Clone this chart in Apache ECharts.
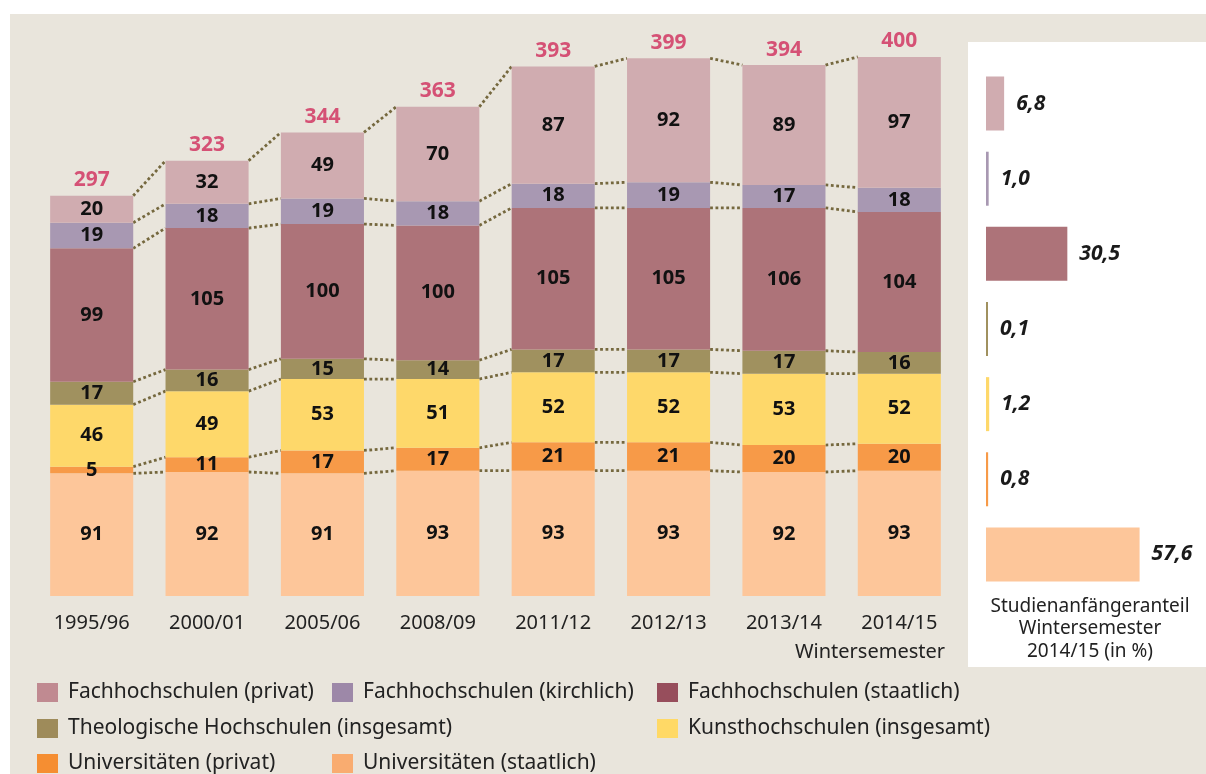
<!DOCTYPE html>
<html>
<head>
<meta charset="utf-8">
<script src="https://cdn.jsdelivr.net/npm/echarts@6/dist/echarts.min.js"></script>
<style>
html,body{margin:0;padding:0;background:#fff;}
#chart{width:1206px;height:774px;}
</style>
</head>
<body>
<div id="chart"></div>
<script>
// ---- data ----
const categories = ['1995/96','2000/01','2005/06','2008/09','2011/12','2012/13','2013/14','2014/15'];
const uniStaatlich = [91, 92, 91, 93, 93, 93, 92, 93];
const uniPrivat    = [5, 11, 17, 17, 21, 21, 20, 20];
const kunst        = [46, 49, 53, 51, 52, 52, 53, 52];
const theologisch  = [17, 16, 15, 14, 17, 17, 17, 16];
const fhStaatlich  = [99, 105, 100, 100, 105, 105, 106, 104];
const fhKirchlich  = [19, 18, 19, 18, 18, 19, 17, 18];
const fhPrivat     = [20, 32, 49, 70, 87, 92, 89, 97];
const totals       = [297, 323, 344, 363, 393, 399, 394, 400];
const shareNames   = ['Fachhochschulen (privat)','Fachhochschulen (kirchlich)','Fachhochschulen (staatlich)','Theologische Hochschulen (insgesamt)','Kunsthochschulen (insgesamt)','Universitäten (privat)','Universitäten (staatlich)'];
const shareValues  = [6.8, 1.0, 30.5, 0.1, 1.2, 0.8, 57.6];

// ---- styling ----
const FONT = 'Noto Sans';
const stackDefs = [
  {name:'Universitäten (staatlich)', data:uniStaatlich, color:'#FDC69A', legend:'#F9AC70'},
  {name:'Universitäten (privat)', data:uniPrivat, color:'#F79A48', legend:'#F58E32'},
  {name:'Kunsthochschulen (insgesamt)', data:kunst, color:'#FED86A', legend:'#FFD966'},
  {name:'Theologische Hochschulen (insgesamt)', data:theologisch, color:'#A0915F', legend:'#9E8B5A'},
  {name:'Fachhochschulen (staatlich)', data:fhStaatlich, color:'#AD7379', legend:'#974E5C'},
  {name:'Fachhochschulen (kirchlich)', data:fhKirchlich, color:'#A898B2', legend:'#9D88A8'},
  {name:'Fachhochschulen (privat)', data:fhPrivat, color:'#D0ACB0', legend:'#C08A91'}
];
const colorByName = {};
stackDefs.forEach(d => colorByName[d.name] = d);

// cumulative boundaries
const cum = [];
let run = categories.map(() => 0);
stackDefs.forEach(d => {
  run = run.map((v, i) => v + d.data[i]);
  cum.push(run.slice());
});

const BAR_FRAC = 0.72;

const series = stackDefs.map(d => ({
  name: d.name,
  type: 'bar',
  stack: 'total',
  barWidth: '72%',
  xAxisIndex: 0, yAxisIndex: 0,
  itemStyle: {color: d.color},
  label: {show: true, position: 'inside', color: '#111', fontFamily: FONT, fontWeight: 'bold', fontSize: 20},
  data: d.data
}));

// totals above bars
series.push({
  name: 'Summe',
  type: 'scatter',
  xAxisIndex: 0, yAxisIndex: 0,
  symbolSize: 0,
  silent: true,
  label: {show: true, position: 'top', distance: 5, color: '#CF2C5B', fontFamily: FONT, fontWeight: 'bold', fontSize: 21,
          formatter: p => p.value},
  data: totals
});

// dotted connectors between bars
series.push({
  name: 'Verbindungen',
  type: 'custom',
  xAxisIndex: 0, yAxisIndex: 0,
  silent: true,
  encode: {x: 0, y: 1},
  data: categories.slice(0, -1).map((c, i) => [i, 0]),
  renderItem: function (params, api) {
    const i = api.value(0);
    const half = api.size([1, 0])[0] * BAR_FRAC / 2;
    const children = [];
    for (let k = 0; k < cum.length; k++) {
      const p1 = api.coord([i, cum[k][i]]);
      const p2 = api.coord([i + 1, cum[k][i + 1]]);
      children.push({
        type: 'line',
        shape: {x1: p1[0] + half, y1: p1[1], x2: p2[0] - half, y2: p2[1]},
        style: {stroke: '#75683E', lineWidth: 2.8, lineDash: [2.8, 2.6]}
      });
    }
    return {type: 'group', children: children};
  }
});

// right panel: share 2014/15
series.push({
  name: 'Anteil',
  type: 'bar',
  xAxisIndex: 1, yAxisIndex: 1,
  barWidth: 54,
  barMinHeight: 2,
  label: {show: true, position: 'right', distance: 12, color: '#1a1a1a', fontFamily: FONT, fontWeight: 'bold', fontStyle: 'italic', fontSize: 21,
          formatter: p => p.value.toFixed(1).replace('.', ',')},
  data: shareValues.map((v, i) => ({value: v, itemStyle: {color: colorByName[shareNames[i]].color}}))
});

function legendAt(name, left, top) {
  return {
    left: left, top: top, padding: 0,
    itemWidth: 21, itemHeight: 19, itemGap: 10,
    icon: 'rect',
    textStyle: {fontFamily: FONT, fontSize: 21, color: '#222', padding: [0, 0, 0, 5]},
    data: [{name: name, itemStyle: {color: colorByName[name].legend}}]
  };
}

const option = {
  animation: false,
  backgroundColor: '#ffffff',
  textStyle: {fontFamily: FONT},
  graphic: [
    {type: 'rect', z: -10, shape: {x: 10, y: 14, width: 1196, height: 760}, style: {fill: '#E9E5DC'}},
    {type: 'rect', z: -9, shape: {x: 968, y: 42, width: 238, height: 625}, style: {fill: '#ffffff'}},
    {type: 'text', z: 10, style: {x: 945, y: 652, text: 'Wintersemester', fill: '#222', font: '20px "Noto Sans"', textAlign: 'right', textVerticalAlign: 'middle'}},
    {type: 'text', z: 10, style: {x: 1090, y: 629, text: 'Studienanfängeranteil\nWintersemester\n2014/15 (in %)', fill: '#222', font: '19px "Noto Sans"', lineHeight: 22.5, textAlign: 'center', textVerticalAlign: 'middle'}}
  ],
  grid: [
    {left: 34, right: 249, top: 30, bottom: 178, containLabel: false},
    {left: 986, width: 200, top: 66, height: 526, containLabel: false}
  ],
  xAxis: [
    {type: 'category', gridIndex: 0, data: categories,
     axisLine: {show: false}, axisTick: {show: false},
     axisLabel: {color: '#222', fontFamily: FONT, fontSize: 20, margin: 17}},
    {type: 'value', gridIndex: 1, min: 0, max: 75, show: false}
  ],
  yAxis: [
    {type: 'value', gridIndex: 0, min: 0, max: 420, show: false, splitLine: {show: false}},
    {type: 'category', gridIndex: 1, data: shareNames, inverse: true, show: false}
  ],
  legend: [
    legendAt('Fachhochschulen (privat)', 37, 682),
    legendAt('Fachhochschulen (kirchlich)', 332, 682),
    legendAt('Fachhochschulen (staatlich)', 657, 682),
    legendAt('Theologische Hochschulen (insgesamt)', 37, 718),
    legendAt('Kunsthochschulen (insgesamt)', 657, 718),
    legendAt('Universitäten (privat)', 37, 753),
    legendAt('Universitäten (staatlich)', 332, 753)
  ],
  series: series
};

const chart = echarts.init(document.getElementById('chart'), null, {renderer: 'canvas'});
chart.setOption(option);
</script>
</body>
</html>
